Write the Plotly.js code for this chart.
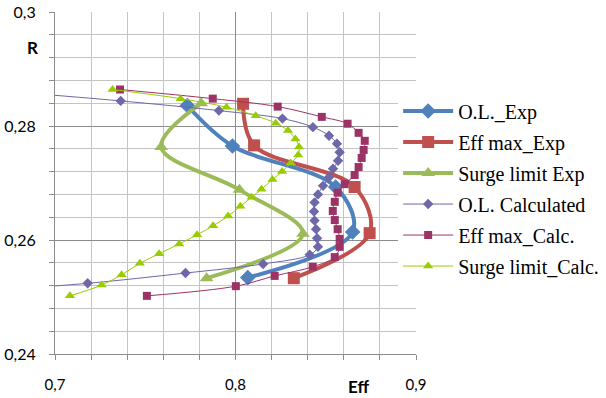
<!DOCTYPE html>
<html><head><meta charset="utf-8">
<script src="https://cdn.plot.ly/plotly-3.0.1.min.js"></script>
<style>html,body{margin:0;padding:0;background:#fff}#chart{width:606px;height:398px}</style>
</head><body><div id="chart"></div>
<script>
// Experimental series
const effOLExp = [0.7733, 0.7983, 0.8555, 0.8649, 0.8068];
const rOLExp   = [0.2836, 0.2765, 0.2693, 0.2614, 0.2534];
const effMaxExp = [0.8042, 0.8103, 0.8660, 0.8743, 0.8323];
const rMaxExp   = [0.2839, 0.2766, 0.2693, 0.2612, 0.2533];
const effSurgeExp = [0.7810, 0.7588, 0.8022, 0.8374, 0.7840];
const rSurgeExp   = [0.2840, 0.2763, 0.2688, 0.2611, 0.2533];
// Calculated series
const effOLCalc = [0.680, 0.7364, 0.7908, 0.8260, 0.8429, 0.8518, 0.8562, 0.8577, 0.8568, 0.8540, 0.8518, 0.8485, 0.8457, 0.8438, 0.8435, 0.8438, 0.8446, 0.8452, 0.8457, 0.8411, 0.8153, 0.7723, 0.7181, 0.680];
const rOLCalc   = [0.2859, 0.2844, 0.2827, 0.2813, 0.2798, 0.2783, 0.2769, 0.2754, 0.2739, 0.2725, 0.2710, 0.2695, 0.2680, 0.2666, 0.2650, 0.2634, 0.2619, 0.2603, 0.2588, 0.2574, 0.2558, 0.2542, 0.2524, 0.2515];
const effMaxCalc = [0.7360, 0.7874, 0.8234, 0.8478, 0.8621, 0.8682, 0.8716, 0.8710, 0.8699, 0.8682, 0.8660, 0.8605, 0.8566, 0.8550, 0.8539, 0.8550, 0.8566, 0.8577, 0.8577, 0.8550, 0.8428, 0.8217, 0.8002, 0.7509];
const rMaxCalc   = [0.2864, 0.2848, 0.2834, 0.2816, 0.2804, 0.2788, 0.2774, 0.2758, 0.2744, 0.2728, 0.2714, 0.2698, 0.2683, 0.2667, 0.2651, 0.2635, 0.2619, 0.2602, 0.2588, 0.2570, 0.2553, 0.2537, 0.2519, 0.2502];
const effSurgeCalc = [0.7319, 0.7696, 0.7950, 0.8112, 0.8223, 0.8291, 0.8332, 0.8352, 0.8347, 0.8306, 0.8258, 0.8205, 0.8144, 0.8089, 0.8027, 0.7959, 0.7876, 0.7787, 0.7688, 0.7577, 0.7470, 0.7369, 0.7258, 0.7083];
const rSurgeCalc   = [0.2864, 0.2848, 0.2833, 0.2818, 0.2805, 0.2792, 0.2777, 0.2763, 0.2749, 0.2735, 0.2720, 0.2706, 0.2689, 0.2675, 0.2659, 0.2642, 0.2625, 0.2609, 0.2593, 0.2576, 0.2559, 0.2539, 0.2521, 0.2502];
const seriesNames = ['O.L._Exp', 'Eff max_Exp', 'Surge limit Exp', 'O.L. Calculated', 'Eff max_Calc.', 'Surge limit_Calc.'];
const yTickVals = [0.24, 0.26, 0.28, 0.3];
const yTickText = ['0,24', '0,26', '0,28', '0,3'];
const xTickVals = [0.7, 0.8, 0.9];
const xTickText = ['0,7', '0,8', '0,9'];

function tr(x, y, name, color, width, symbol, size, i) {
  return {x: x, y: y, name: name, type: 'scatter', mode: 'lines+markers',
    legendgroup: 'g' + i,
    line: {color: color, width: width, shape: 'spline', smoothing: 1},
    marker: {color: color, symbol: symbol, size: size}, cliponaxis: true};
}
const data = [
  tr(effOLExp, rOLExp, seriesNames[0], '#4F81BD', 4, 'diamond', 12, 0),
  tr(effMaxExp, rMaxExp, seriesNames[1], '#C0504D', 4, 'square', 12, 1),
  tr(effSurgeExp, rSurgeExp, seriesNames[2], '#9BBB59', 4, 'triangle-up', 12, 2),
  tr(effOLCalc, rOLCalc, seriesNames[3], '#6E67AA', 1, 'diamond', 8, 3),
  tr(effMaxCalc, rMaxCalc, seriesNames[4], '#9C3366', 1, 'square', 8, 4),
  tr(effSurgeCalc, rSurgeCalc, seriesNames[5], '#99CC00', 1, 'triangle-up', 9, 5)
];
const layout = {
  width: 606, height: 398,
  margin: {l: 55, r: 190, t: 12, b: 44, autoexpand: false},
  paper_bgcolor: '#fff', plot_bgcolor: '#fff',
  showlegend: true,
  font: {family: 'Lato, Liberation Sans, sans-serif', color: '#000'},
  xaxis: {range: [0.7, 0.9], tickvals: xTickVals, ticktext: xTickText,
    showgrid: true, gridcolor: '#8C8C8C', gridwidth: 1,
    showline: true, linecolor: '#8C8C8C', linewidth: 1,
    ticks: 'outside', ticklen: 5, tickcolor: '#8C8C8C',
    ticklabelstandoff: 12, zeroline: false,
    tickfont: {size: 15, color: '#000'},
    minor: {dtick: 0.02, showgrid: true, gridcolor: '#C4C4C4', gridwidth: 1, ticks: 'outside', ticklen: 5, tickcolor: '#8C8C8C'}},
  yaxis: {range: [0.24, 0.3], tickvals: yTickVals, ticktext: yTickText,
    showgrid: true, gridcolor: '#8C8C8C', gridwidth: 1,
    showline: true, linecolor: '#8C8C8C', linewidth: 1,
    ticks: 'outside', ticklen: 5, tickcolor: '#8C8C8C',
    ticklabelstandoff: 10, zeroline: false,
    tickfont: {size: 16, color: '#000'},
    minor: {dtick: 0.004, showgrid: true, gridcolor: '#C4C4C4', gridwidth: 1, ticks: 'outside', ticklen: 5, tickcolor: '#8C8C8C'}},
  legend: {xref: 'container', yref: 'container', x: 0.657, xanchor: 'left', y: 0.77, yanchor: 'top',
    bgcolor: '#fff', borderwidth: 0, itemwidth: 50, tracegroupgap: 2,
    font: {family: 'Liberation Serif, Times New Roman, serif', size: 20, color: '#000'}},
  annotations: [
    {text: '<b>R</b>', xref: 'paper', yref: 'paper', x: -0.061, y: 0.895, xanchor: 'center', yanchor: 'middle', showarrow: false, font: {size: 17, color: '#000'}},
    {text: '<b>Eff</b>', xref: 'paper', yref: 'paper', x: 0.842, y: -0.096, xanchor: 'center', yanchor: 'middle', showarrow: false, font: {size: 17, color: '#000'}}
  ]
};
Plotly.newPlot('chart', data, layout, {displayModeBar: false, staticPlot: true});
</script></body></html>
